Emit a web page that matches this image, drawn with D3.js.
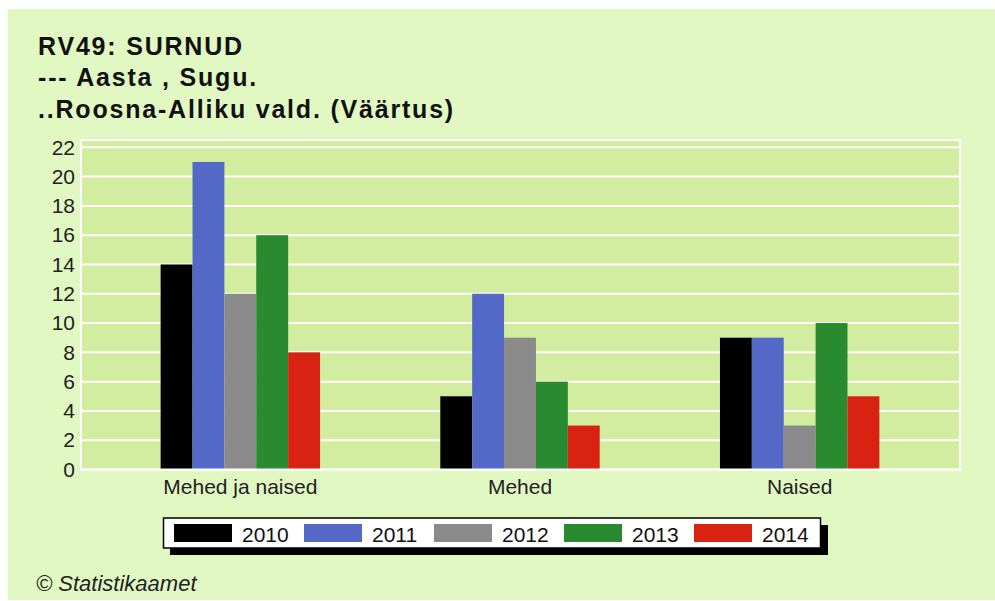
<!DOCTYPE html>
<html>
  <head>
    <meta charset="utf-8" />
    <title>RV49: SURNUD</title>
    <script src="https://d3js.org/d3.v7.min.js"></script>
    <style>
      body { margin: 0; background: #fff; }
      text { font-family: Arial, "Liberation Sans", sans-serif; }
    </style>
  </head>
  <body>
    <div id="chart"></div>
    <script>
      // data
      var categories = ["Mehed ja naised", "Mehed", "Naised"];
      var years = ["2010", "2011", "2012", "2013", "2014"];
      var values = {
        "2010": [14, 5, 9],
        "2011": [21, 12, 9],
        "2012": [12, 9, 3],
        "2013": [16, 6, 10],
        "2014": [8, 3, 5]
      };
      var yTicks = [0, 2, 4, 6, 8, 10, 12, 14, 16, 18, 20, 22];
      var colors = ["#000000", "#5468c8", "#8a8a8a", "#2a8a30", "#d82212"];
      var titleLines = ["RV49: SURNUD", "--- Aasta , Sugu.", "..Roosna-Alliku vald. (Väärtus)"];

      var width = 995, height = 601;
      var font = "Arial, 'Liberation Sans', sans-serif";
      var svg = d3.select("#chart").append("svg")
        .attr("width", width)
        .attr("height", height);

      // outer panel
      svg.append("rect")
        .attr("x", 8).attr("y", 9)
        .attr("width", width - 8).attr("height", height - 10)
        .attr("fill", "#e2f8c2");

      // title
      svg.append("g").selectAll("text")
        .data(titleLines)
        .enter().append("text")
        .attr("x", 38)
        .attr("y", function (d, i) { return 54.5 + i * 31.5; })
        .attr("font-size", 25)
        .attr("font-weight", "bold")
        .attr("letter-spacing", 1.8)
        .attr("fill", "#111")
        .text(function (d) { return d; });

      // plot area
      var plot = { left: 81, right: 960, top: 140, bottom: 469.5 };
      var y = d3.scaleLinear().domain([0, 22.5]).range([plot.bottom, plot.top]);
      var x0 = d3.scaleBand().domain(categories).range([100.5, 939.5]).paddingInner(0.43).paddingOuter(0.215);
      var x1 = d3.scaleBand().domain(years).range([0, x0.bandwidth()]);

      svg.append("rect")
        .attr("x", plot.left).attr("y", plot.top)
        .attr("width", plot.right - plot.left).attr("height", plot.bottom - plot.top)
        .attr("fill", "#d2eda0")
        .attr("stroke", "#fff").attr("stroke-width", 2);

      // grid
      svg.append("g").selectAll("line")
        .data(yTicks.slice(1))
        .enter().append("line")
        .attr("x1", plot.left).attr("x2", plot.right)
        .attr("y1", function (d) { return y(d); })
        .attr("y2", function (d) { return y(d); })
        .attr("stroke", "#fff").attr("stroke-width", 2);

      // y axis labels
      var yAxis = d3.axisLeft(y).tickValues(yTicks).tickSize(0).tickPadding(6);
      var gy = svg.append("g").attr("transform", "translate(" + plot.left + ",0)").call(yAxis);
      gy.attr("font-size", 21).attr("font-family", font);
      gy.select(".domain").remove();
      gy.selectAll("text").attr("fill", "#222");

      // bars
      svg.append("g").selectAll("g")
        .data(years)
        .enter().append("g")
        .attr("fill", function (d, i) { return colors[i]; })
        .selectAll("rect")
        .data(function (yr) {
          return categories.map(function (c, j) { return { cat: c, year: yr, v: values[yr][j] }; });
        })
        .enter().append("rect")
        .attr("x", function (d) { return x0(d.cat) + x1(d.year); })
        .attr("y", function (d) { return y(d.v); })
        .attr("width", x1.bandwidth())
        .attr("height", function (d) { return y(0) - y(d.v); });

      // bottom white line
      svg.append("line")
        .attr("x1", plot.left).attr("x2", plot.right)
        .attr("y1", plot.bottom).attr("y2", plot.bottom)
        .attr("stroke", "#fff").attr("stroke-width", 2);

      // x axis labels
      var xAxis = d3.axisBottom(x0).tickSize(0).tickPadding(10);
      var gx = svg.append("g").attr("transform", "translate(0," + plot.bottom + ")").call(xAxis);
      gx.attr("font-size", 21).attr("font-family", font);
      gx.select(".domain").remove();
      gx.selectAll("text").attr("fill", "#222");

      // legend
      var lg = svg.append("g");
      lg.append("rect").attr("x", 170).attr("y", 525).attr("width", 658).attr("height", 30).attr("fill", "#000");
      lg.append("rect").attr("x", 163.5).attr("y", 518).attr("width", 657).attr("height", 30)
        .attr("fill", "#fff").attr("stroke", "#000").attr("stroke-width", 1.5);
      var items = lg.selectAll("g.item")
        .data(years)
        .enter().append("g")
        .attr("class", "item")
        .attr("transform", function (d, i) { return "translate(" + (174 + i * 130) + ",524)"; });
      items.append("rect")
        .attr("width", 58).attr("height", 18)
        .attr("fill", function (d, i) { return colors[i]; });
      items.append("text")
        .attr("x", 68).attr("y", 18)
        .attr("font-size", 21).attr("fill", "#111")
        .text(function (d) { return d; });

      // footer
      svg.append("text")
        .attr("x", 36).attr("y", 591)
        .attr("font-size", 22).attr("font-style", "italic").attr("fill", "#222")
        .text("© Statistikaamet");
    </script>
  </body>
</html>
